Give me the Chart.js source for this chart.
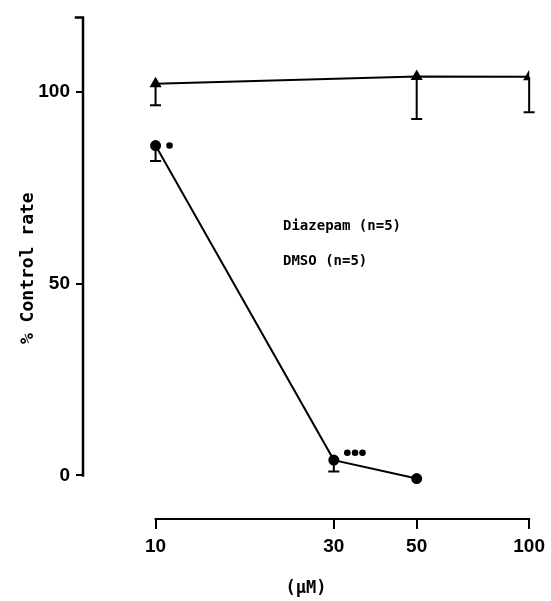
<!DOCTYPE html>
<html>
<head>
<meta charset="utf-8">
<script src="https://cdn.jsdelivr.net/npm/chart.js@4"></script>
<style>
html, body { margin: 0; padding: 0; background: #fff; }
</style>
</head>
<body>
<canvas id="c" width="551" height="601"></canvas>
<script>
// data
const xTicks = [10, 30, 50, 100];
const yTicks = [0, 50, 100];

const diazepamX = [10, 30, 50];
const diazepamY = [86.0, 4.0, -0.8];
const diazepamLow = [82.0, 1.0, null];

const dmsoX = [10, 50, 100];
const dmsoY = [102.1, 104.0, 103.9];
const dmsoLow = [96.5, 92.9, 94.7];

// significance dots
const sigX = [10.9, 32.6, 34.2, 35.8];
const sigY = [86.0, 5.9, 5.9, 5.9];

const legendLines = ['Diazepam (n=5)', 'DMSO (n=5)'];

const toPts = (xs, ys) => xs.map((x, i) => ({ x: x, y: ys[i] }));

// lower error bars with caps
const errorBars = {
    id: 'errorBars',
    afterDatasetsDraw(chart) {
        const ctx = chart.ctx;
        const xs = chart.scales.x, ys = chart.scales.y;
        ctx.save();
        ctx.strokeStyle = '#000';
        ctx.lineWidth = 2;
        chart.data.datasets.forEach(ds => {
            if (!ds.lower) return;
            ds.data.forEach((p, i) => {
                const lo = ds.lower[i];
                if (lo == null) return;
                const px = xs.getPixelForValue(p.x);
                const py = ys.getPixelForValue(p.y);
                const pl = ys.getPixelForValue(lo);
                ctx.beginPath();
                ctx.moveTo(px, py);
                ctx.lineTo(px, pl);
                ctx.moveTo(px - 5.5, pl);
                ctx.lineTo(px + 5.5, pl);
                ctx.stroke();
            });
        });
        ctx.restore();
    }
};

// axis lines (partial, like the original) and the text legend
const decor = {
    id: 'decor',
    afterDraw(chart) {
        const ctx = chart.ctx;
        const a = chart.chartArea;
        const xs = chart.scales.x, ys = chart.scales.y;
        ctx.save();
        ctx.strokeStyle = '#000';
        ctx.lineCap = 'square';
        // y axis from 0 to top, with small bracket at top
        ctx.lineWidth = 2.5;
        ctx.beginPath();
        ctx.moveTo(a.left - 7, a.top);
        ctx.lineTo(a.left, a.top);
        ctx.lineTo(a.left, ys.getPixelForValue(0));
        ctx.stroke();
        // x axis from 10 to 100
        ctx.lineWidth = 2;
        ctx.beginPath();
        ctx.moveTo(xs.getPixelForValue(10), a.bottom);
        ctx.lineTo(xs.getPixelForValue(100), a.bottom);
        ctx.stroke();
        // legend text
        ctx.fillStyle = '#000';
        ctx.font = 'bold 14px "DejaVu Sans Mono"';
        ctx.textBaseline = 'middle';
        ctx.textAlign = 'left';
        legendLines.forEach((t, i) => {
            ctx.fillText(t, a.left + 200, a.top + 209 + i * 35);
        });
        ctx.restore();
    }
};

new Chart(document.getElementById('c'), {
    type: 'line',
    data: {
        datasets: [
            {
                label: 'Diazepam',
                data: toPts(diazepamX, diazepamY),
                lower: diazepamLow,
                borderColor: '#000',
                backgroundColor: '#000',
                borderWidth: 2,
                pointStyle: 'circle',
                pointRadius: 4.5,
                tension: 0
            },
            {
                label: 'DMSO',
                data: toPts(dmsoX, dmsoY),
                lower: dmsoLow,
                borderColor: '#000',
                backgroundColor: '#000',
                borderWidth: 2,
                pointStyle: 'triangle',
                pointRadius: 5,
                tension: 0
            },
            {
                label: 'sig',
                data: toPts(sigX, sigY),
                showLine: false,
                borderColor: '#000',
                backgroundColor: '#000',
                pointRadius: 3.3,
                borderWidth: 0
            }
        ]
    },
    options: {
        responsive: false,
        animation: false,
        layout: { padding: { left: 0, top: 12, right: 19, bottom: 0 } },
        plugins: { legend: { display: false }, tooltip: { enabled: false } },
        scales: {
            x: {
                type: 'logarithmic',
                min: 6.394,
                max: 100,
                afterBuildTicks: s => { s.ticks = xTicks.map(v => ({ value: v })); },
                afterFit: s => { s.height = 82; },
                border: { display: false },
                grid: { drawOnChartArea: false, color: '#000', lineWidth: 2, tickLength: 10 },
                ticks: {
                    color: '#000',
                    padding: 6,
                    maxRotation: 0,
                    autoSkip: false,
                    font: { family: 'Liberation Sans', size: 19, weight: 'bold' },
                    callback: v => String(v)
                },
                title: {
                    display: true,
                    text: '(µM)',
                    color: '#000',
                    font: { family: 'DejaVu Sans Mono', size: 17, weight: 'bold' },
                    padding: { top: 0, bottom: 2 }
                }
            },
            y: {
                min: -11.35,
                max: 119.4,
                afterBuildTicks: s => { s.ticks = yTicks.map(v => ({ value: v })); },
                afterFit: s => { s.width = 83; },
                border: { display: false },
                grid: { drawOnChartArea: false, color: '#000', lineWidth: 2, tickLength: 7 },
                ticks: {
                    color: '#000',
                    padding: 6,
                    font: { family: 'Liberation Sans', size: 19, weight: 'bold' }
                },
                title: {
                    display: true,
                    text: '% Control rate',
                    color: '#000',
                    font: { family: 'DejaVu Sans Mono', size: 18, weight: 'bold' },
                    padding: { top: 18, bottom: 0 }
                }
            }
        }
    },
    plugins: [errorBars, decor]
});
</script>
</body>
</html>
